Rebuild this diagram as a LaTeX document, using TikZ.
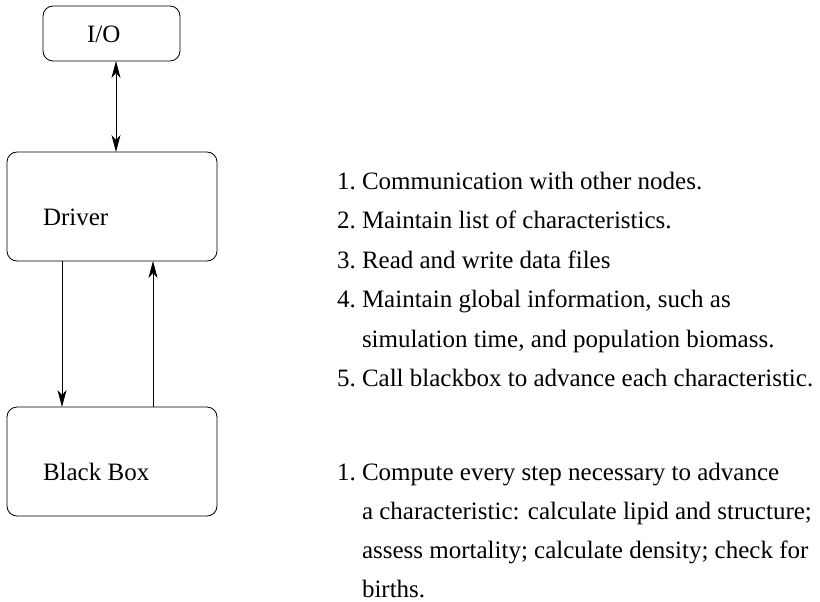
\documentclass[tikz,border=0pt]{standalone}
\usepackage{fontspec}
\setmainfont{Liberation Serif}
\usetikzlibrary{arrows.meta}
\begin{document}
\begin{tikzpicture}[x=1pt,y=-1pt,
  blockbox/.style={draw, line width=0.8pt, rounded corners=10pt},
  flow/.style={draw, line width=0.8pt, -{Stealth[length=17pt,width=9pt,inset=5pt]}},
  both/.style={draw, line width=0.8pt, {Stealth[length=17pt,width=9pt,inset=5pt]}-{Stealth[length=17pt,width=9pt,inset=5pt]}},
  txt/.style={anchor=base west, inner sep=0pt, outer sep=0pt, align=left,
              font=\fontsize{25}{39.5}\selectfont}]
\useasboundingbox (0,0) rectangle (820,602);

% boxes on the left
\draw[blockbox] (43,6) rectangle (180,61);
\draw[blockbox] (7,152) rectangle (217,261);
\draw[blockbox] (7,407) rectangle (217,516);

% anchor points on the box edges
\coordinate (ioB) at (116,61);
\coordinate (drT) at (116,152);
\coordinate (drBl) at (62,261);
\coordinate (drBr) at (153,261);
\coordinate (bbTl) at (62,407);
\coordinate (bbTr) at (153,407);

% box labels
\node[txt] (iolabel) at (87,43) {I/O};
\node[txt] (driver) at (43,225) {Driver};
\node[txt] (blackbox) at (43,480) {Black Box};

% connectors
\draw[both] (ioB) -- (drT);
\draw[flow] (drBl) -- (bbTl);
\draw[flow] (bbTr) -- (drBr);

% duties of the driver (anchored on the baseline of the last line)
\node[txt] (driverlist) at (337,386.5) {1.\ Communication with other nodes.\\
2.\ Maintain list of characteristics.\\
3.\ Read and write data files\\
4.\ Maintain global information, such as\\
\phantom{4.\ }simulation time, and population biomass.\\
5.\ Call blackbox to advance each characteristic.};

% duties of the black box (anchored on the baseline of the last line)
\node[txt, font=\fontsize{25}{39}\selectfont] (bblist) at (337,597) {1.\ Compute every step necessary to advance\\
\phantom{1.\ }a characteristic: calculate lipid and structure;\\
\phantom{1.\ }assess mortality; calculate density; check for\\
\phantom{1.\ }births.};
\end{tikzpicture}
\end{document}
